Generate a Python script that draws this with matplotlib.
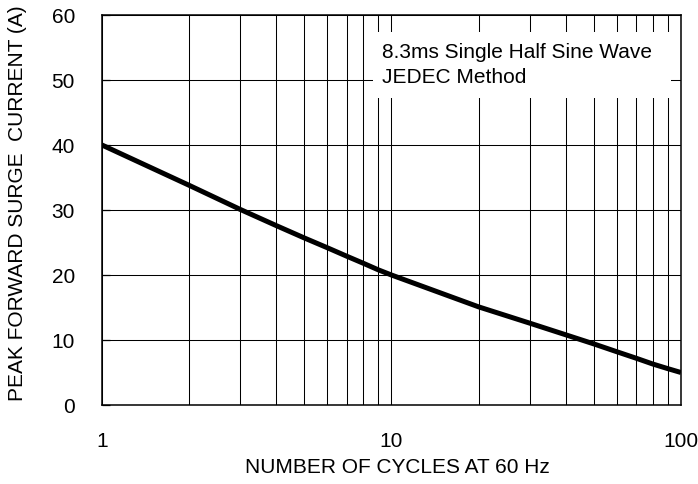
import matplotlib
matplotlib.use("Agg")
import matplotlib.pyplot as plt
from matplotlib.patches import Rectangle
from matplotlib.ticker import FixedLocator, NullFormatter

plt.rcParams["font.family"] = ["Liberation Sans", "DejaVu Sans"]

# surge curve
cycles = [1, 2, 3, 4, 5, 6, 7, 8, 9, 10,
          20, 30, 40, 50, 60, 70, 80, 90, 100]
surge_amps = [40, 33.8, 30.1, 27.6, 25.7, 24.2, 22.9, 21.8, 20.8, 20.0,
              15.1, 12.6, 10.8, 9.4, 8.2, 7.2, 6.3, 5.6, 5.0]

x_major = [1, 10, 100]
x_major_labels = ["1", "10", "100"]
x_minor = [2, 3, 4, 5, 6, 7, 8, 9, 20, 30, 40, 50, 60, 70, 80, 90]
y_ticks = [0, 10, 20, 30, 40, 50, 60]

note_lines = ["8.3ms Single Half Sine Wave", "JEDEC Method"]

fig = plt.figure(figsize=(6.98, 4.84), dpi=100)
ax = fig.add_axes([0.1461, 0.1632, 0.8295, 0.8058])

ax.plot(cycles, surge_amps, color="black", linewidth=3.6,
        solid_capstyle="butt", solid_joinstyle="round", zorder=5)

ax.set_xscale("log")
ax.set_xlim(1, 100)
ax.set_ylim(0, 60)
ax.xaxis.set_major_locator(FixedLocator(x_major))
ax.set_xticklabels(x_major_labels)
ax.xaxis.set_minor_locator(FixedLocator(x_minor))
ax.xaxis.set_minor_formatter(NullFormatter())
ax.set_yticks(y_ticks)

ax.grid(True, which="both", axis="x", color="black", linewidth=0.75)
ax.grid(True, which="major", axis="y", color="black", linewidth=0.75)
ax.tick_params(axis="x", which="both", length=0, labelsize=15, pad=19.5)
ax.tick_params(axis="y", which="major", direction="in", length=6,
               width=0.9, labelsize=15, pad=19.5)
for s in ax.spines.values():
    s.set_linewidth(1.1)

# white box hiding the grid behind the note
ax.add_patch(Rectangle((0.468, 0.787), 0.515, 0.169, transform=ax.transAxes,
                       facecolor="white", edgecolor="none", zorder=3))
for i, line in enumerate(note_lines):
    ax.text(0.4836, 0.8897 - 0.0641 * i, line, transform=ax.transAxes,
            fontsize=15, ha="left", va="baseline", zorder=4)

ax.set_xlabel("NUMBER OF CYCLES AT 60 Hz", fontsize=15)
ax.set_ylabel("PEAK FORWARD SURGE  CURRENT (A)", fontsize=15)
ax.xaxis.set_label_coords(0.51, -0.136)
ax.yaxis.set_label_coords(-0.13, 0.518)

fig.savefig("out.png", dpi=100)
